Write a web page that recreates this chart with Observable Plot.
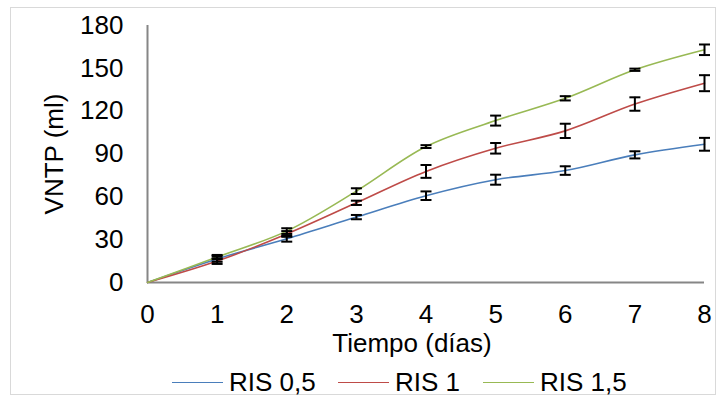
<!DOCTYPE html>
<html>
<head>
<meta charset="utf-8">
<script src="https://cdn.jsdelivr.net/npm/d3@7"></script>
<script src="https://cdn.jsdelivr.net/npm/@observablehq/plot@0.6"></script>
<style>
  body { margin: 0; background: #fff; font-family: "Liberation Sans", Arial, sans-serif; }
  #frame { position: absolute; left: 10px; top: 7px; width: 706px; height: 388px; border: 1px solid #d9d9d9; box-sizing: border-box; }
  #chart { position: absolute; left: 0; top: 0; }
  #legend { position: absolute; left: 0; top: 366px; width: 718px; height: 32px; }
  .item { position: absolute; top: 0; display: flex; align-items: center; font-size: 26px; color: #000; height: 32px; }
  .sw { display: inline-block; width: 51px; height: 0; border-top: 1.5px solid; margin-right: 6px; }
</style>
</head>
<body>
<div id="frame"></div>
<div id="chart"></div>
<div id="legend"></div>
<script>
const days = [0, 1, 2, 3, 4, 5, 6, 7, 8];
const seriesNames = ["RIS 0,5", "RIS 1", "RIS 1,5"];
const colors = ["#4a7ebb", "#be4b48", "#98b954"];
const ris05 = [0, 16.5, 30.6, 45.8, 60.8, 72, 78.4, 89.4, 96.8];
const ris05err = [0, 2, 2, 1.5, 3, 3.5, 3, 2.5, 4.5];
const ris1 = [0, 15, 34, 55.8, 77.8, 94, 106.2, 125, 139.6];
const ris1err = [0, 2, 2, 1.5, 4.5, 3.7, 5, 4.7, 5.6];
const ris15 = [0, 17.8, 36, 64, 95.2, 113.4, 129, 149, 163];
const ris15err = [0, 1.5, 2, 2, 1, 3.5, 1.5, 0.8, 3.7];
const yTicks = [0, 30, 60, 90, 120, 150, 180];
const xTicks = [0, 1, 2, 3, 4, 5, 6, 7, 8];

const vals = [ris05, ris1, ris15];
const errs = [ris05err, ris1err, ris15err];
const data = [];
seriesNames.forEach((s, i) => days.forEach((d, j) => data.push({series: s, day: d, v: vals[i][j], e: errs[i][j]})));
const errData = data.filter(d => d.day > 0);

const cap = { draw(ctx, size) { ctx.moveTo(-5.5, 0); ctx.lineTo(5.5, 0); } };

const plot = Plot.plot({
  width: 718,
  height: 366,
  marginLeft: 147,
  marginRight: 14,
  marginTop: 25,
  marginBottom: 84,
  style: { fontFamily: "Liberation Sans, Arial, sans-serif", background: "transparent", overflow: "visible" },
  x: { domain: [0, 8] },
  y: { domain: [0, 180] },
  color: { domain: seriesNames, range: colors },
  marks: [
    Plot.ruleX([0], { stroke: "#868686", strokeWidth: 2 }),
    Plot.ruleY([0], { stroke: "#868686", strokeWidth: 2 }),
    Plot.axisY({ ticks: yTicks, tickSize: 0, tickPadding: 24, fontSize: 26, label: null, tickFormat: d => d }),
    Plot.axisX({ ticks: xTicks, tickSize: 0, tickPadding: 22, fontSize: 26, label: null, tickFormat: d => d }),
    Plot.text(["VNTP (ml)"], { frameAnchor: "left", dx: -93, rotate: -90, textAnchor: "middle", lineAnchor: "middle", fontSize: 26, fill: "#000" }),
    Plot.text(["Tiempo (días)"], { frameAnchor: "bottom", dx: -14, dy: 61, textAnchor: "middle", lineAnchor: "middle", fontSize: 26, fill: "#000" }),
    Plot.line(data, { x: "day", y: "v", z: "series", stroke: "series", strokeWidth: 1.6, curve: "catmull-rom" }),
    Plot.ruleX(errData, { x: "day", y1: d => d.v - d.e, y2: d => d.v + d.e, stroke: "#000", strokeWidth: 2 }),
    Plot.dot(errData, { x: "day", y: d => d.v + d.e, symbol: cap, stroke: "#000", strokeWidth: 2, fill: "none" }),
    Plot.dot(errData, { x: "day", y: d => d.v - d.e, symbol: cap, stroke: "#000", strokeWidth: 2, fill: "none" })
  ]
});
document.getElementById("chart").appendChild(plot);

const legend = document.getElementById("legend");
const lefts = [172, 338, 483];
seriesNames.forEach((s, i) => {
  const it = document.createElement("div");
  it.className = "item";
  it.style.left = lefts[i] + "px";
  const sw = document.createElement("span");
  sw.className = "sw";
  sw.style.borderColor = colors[i];
  it.appendChild(sw);
  it.appendChild(document.createTextNode(s));
  legend.appendChild(it);
});
</script>
</body>
</html>
